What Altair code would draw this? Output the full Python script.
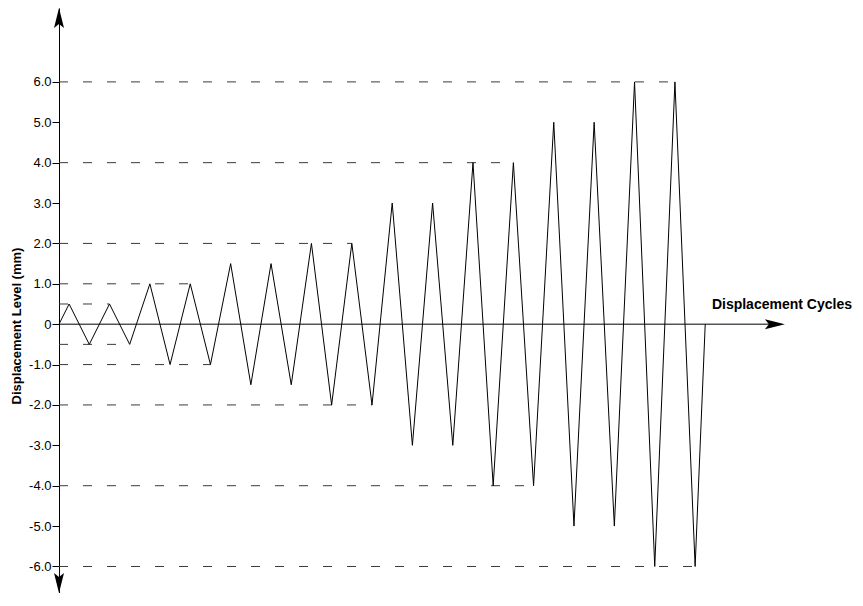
import json
import altair as alt
import pandas as pd

# ---- data ----
cycle_t = [0, 0.5, 1.5, 2.5, 3.5, 4.5, 5.5, 6.5, 7.5, 8.5, 9.5, 10.5, 11.5, 12.5, 13.5,
           14.5, 15.5, 16.5, 17.5, 18.5, 19.5, 20.5, 21.5, 22.5, 23.5, 24.5, 25.5, 26.5,
           27.5, 28.5, 29.5, 30.5, 31.5, 32]
displacement = [0, 0.5, -0.5, 0.5, -0.5, 1.0, -1.0, 1.0, -1.0, 1.5, -1.5, 1.5, -1.5,
                2.0, -2.0, 2.0, -2.0, 3.0, -3.0, 3.0, -3.0, 4.0, -4.0, 4.0, -4.0,
                5.0, -5.0, 5.0, -5.0, 6.0, -6.0, 6.0, -6.0, 0]

ref_levels = [6.0, 4.0, 2.0, 1.0, 0.5, -0.5, -1.0, -2.0, -4.0, -6.0]
ref_end_t = [30.5, 22.5, 14.5, 6.5, 2.5, 3.5, 7.5, 15.5, 23.5, 31.5]

tick_values = [6.0, 5.5, 5.0, 4.5, 4.0, 3.5, 3.0, 2.5, 2.0, 1.5, 1.0, 0.5, 0.0,
               -0.5, -1.0, -1.5, -2.0, -2.5, -3.0, -3.5, -4.0, -4.5, -5.0, -5.5, -6.0]
tick_labels = ["6.0", "", "5.0", "", "4.0", "", "3.0", "", "2.0", "1.5", "1.0", "0.5", "0",
               "-0.5", "-1.0", "-1.5", "-2.0", "", "-3.0", "", "-4.0", "", "-5.0", "", "-6.0"]

y_title = "Displacement Level (mm)"
x_title = "Displacement Cycles"

FONT = "Liberation Sans"
X_DOMAIN = [0, 36]
Y_DOMAIN = [-6.657, 7.83]

xs = alt.Scale(domain=X_DOMAIN, nice=False, zero=False)
ys = alt.Scale(domain=Y_DOMAIN, nice=False, zero=False)

label_expr = f"{json.dumps(tick_labels)}[indexof({json.dumps(tick_values)}, datum.value)]"

line_df = pd.DataFrame({"t": cycle_t, "d": displacement, "o": list(range(len(cycle_t)))})
ref_df = pd.DataFrame({"level": ref_levels, "t0": [0] * len(ref_levels), "t1": ref_end_t})

axis_layer = alt.Chart(pd.DataFrame({"d": [0]})).mark_point(opacity=0).encode(
    y=alt.Y("d:Q", scale=ys, axis=alt.Axis(
        values=tick_values, labelExpr=label_expr, title=None, grid=False,
        domainColor="black", tickColor="black", tickSize=7, labelPadding=1,
        labelFont=FONT, labelFontSize=13, labelColor="black", domainWidth=1,
        labelOverlap=False, labelFlush=False)),
    x=alt.value(0),
)

ref_layer = alt.Chart(ref_df).mark_rule(color="#3a3a3a", strokeDash=[9, 15], strokeWidth=1).encode(
    x=alt.X("t0:Q", scale=xs, axis=None),
    x2="t1:Q",
    y=alt.Y("level:Q", scale=ys),
)

xaxis_df = pd.DataFrame({"t0": [0], "t1": [35.3], "y": [0]})
xaxis_layer = alt.Chart(xaxis_df).mark_rule(color="black", strokeWidth=1).encode(
    x=alt.X("t0:Q", scale=xs, axis=None), x2="t1:Q", y=alt.Y("y:Q", scale=ys))

zig_layer = alt.Chart(line_df).mark_line(color="black", strokeWidth=1).encode(
    x=alt.X("t:Q", scale=xs, axis=None),
    y=alt.Y("d:Q", scale=ys),
    order="o:Q",
)

arrow_up = "M0,-1 L0.5,1 L0,0.6 L-0.5,1 Z"
arrow_down = "M0,1 L0.5,-1 L0,-0.6 L-0.5,-1 Z"
arrow_right = "M1,0 L-1,0.5 L-0.6,0 L-1,-0.5 Z"

arrows_df = pd.DataFrame({
    "t": [0, 0, 35.45],
    "y": [7.58, -6.41, 0],
    "shape": [arrow_up, arrow_down, arrow_right],
})
arrow_layer = alt.Chart(arrows_df).mark_point(filled=True, color="black", size=400, opacity=1, clip=False).encode(
    x=alt.X("t:Q", scale=xs, axis=None),
    y=alt.Y("y:Q", scale=ys),
    shape=alt.Shape("shape:N", scale=None, legend=None),
)

xt_layer = alt.Chart(pd.DataFrame({"t": [32.33], "y": [0.47], "txt": [x_title]})).mark_text(
    font=FONT, fontSize=14, fontWeight="bold", align="left", baseline="middle", color="black"
).encode(x=alt.X("t:Q", scale=xs, axis=None), y=alt.Y("y:Q", scale=ys), text="txt:N")

yt_layer = alt.Chart(pd.DataFrame({"txt": [y_title]})).mark_text(
    font=FONT, fontSize=13, fontWeight="bold", align="center", baseline="middle", angle=270, color="black"
).encode(x=alt.value(-42), y=alt.value(318), text="txt:N")

chart = alt.layer(axis_layer, ref_layer, xaxis_layer, zig_layer, arrow_layer, xt_layer, yt_layer).properties(
    width=727, height=585,
    autosize=alt.AutoSizeParams(type="none"),
    padding={"left": 51, "top": 0, "right": 69, "bottom": 0},
).configure(background="white").configure_view(strokeWidth=0, stroke="transparent")

chart.save("out.html", embed_options={"renderer": "svg", "actions": False})
